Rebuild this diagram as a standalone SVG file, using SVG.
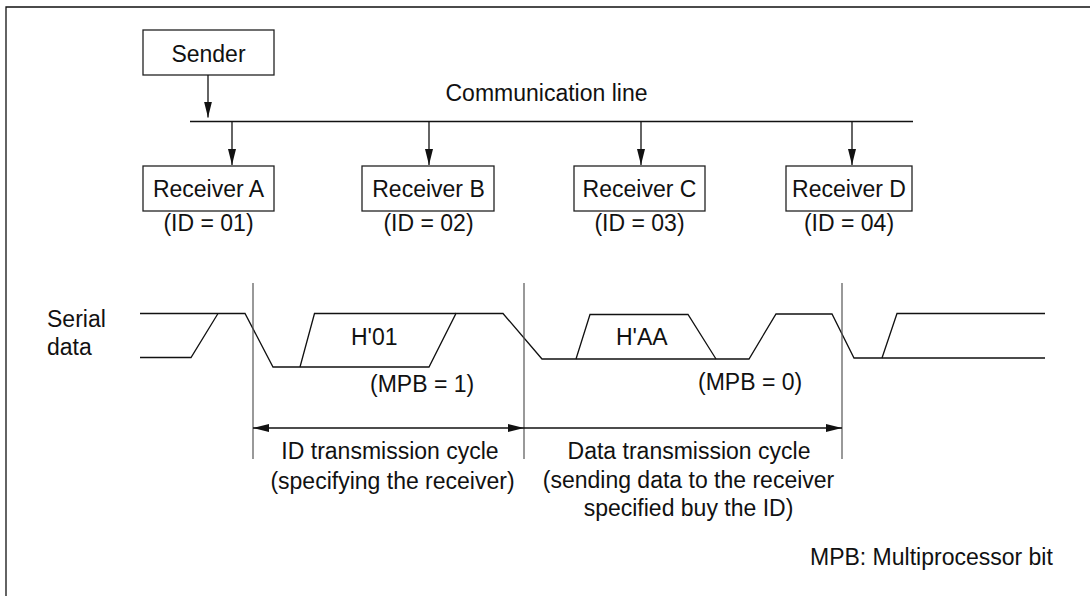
<svg xmlns="http://www.w3.org/2000/svg" width="1090" height="596" viewBox="0 0 1090 596">
<style>
text{font-family:"Liberation Sans",Arial,Helvetica,sans-serif;font-size:23px;fill:#111}
.box{fill:#fff;stroke:#222;stroke-width:1.3}
.ln{fill:none;stroke:#111;stroke-width:1.3}
.sig{fill:none;stroke:#111;stroke-width:1.3;stroke-linejoin:miter}
.vl{fill:none;stroke:#555;stroke-width:1.2}
.c{text-anchor:middle}
</style>
<defs>
<marker id="ah" markerUnits="userSpaceOnUse" markerWidth="16" markerHeight="8" refX="16" refY="4" orient="auto-start-reverse">
<path d="M0,0 L16,4 L0,8 z" fill="#111"/>
</marker>
</defs>
<rect width="1090" height="596" fill="#fff"/>
<g id="frame">
<path class="ln" d="M6,596 V7 H1090" stroke-width="1.6"/>
</g>
<g id="sender">
<rect class="box" x="143" y="30" width="131" height="45"/>
<text class="c" x="208.5" y="62">Sender</text>
</g>
<g id="commline">
<line class="ln" x1="190" y1="121.5" x2="913" y2="121.5"/>
<text class="c" x="546.5" y="100.5">Communication line</text>
</g>
<g id="receiverA">
<rect class="box" x="143" y="166" width="131" height="45"/>
<text class="c" x="208.5" y="197">Receiver A</text>
<text class="c" x="208.5" y="231">(ID = 01)</text>
</g>
<g id="receiverB">
<rect class="box" x="362" y="166" width="132" height="45"/>
<text class="c" x="428.5" y="197">Receiver B</text>
<text class="c" x="428.5" y="231">(ID = 02)</text>
</g>
<g id="receiverC">
<rect class="box" x="574" y="166" width="131" height="45"/>
<text class="c" x="639.5" y="197">Receiver C</text>
<text class="c" x="639.5" y="231">(ID = 03)</text>
</g>
<g id="receiverD">
<rect class="box" x="786" y="166" width="126" height="45"/>
<text class="c" x="849" y="197">Receiver D</text>
<text class="c" x="849" y="231">(ID = 04)</text>
</g>
<g id="connectors">
<line class="ln" x1="208" y1="75" x2="208" y2="117.5" marker-end="url(#ah)"/>
<line class="ln" x1="232" y1="121.5" x2="232" y2="165" marker-end="url(#ah)"/>
<line class="ln" x1="429" y1="121.5" x2="429" y2="165" marker-end="url(#ah)"/>
<line class="ln" x1="641" y1="121.5" x2="641" y2="165" marker-end="url(#ah)"/>
<line class="ln" x1="852" y1="121.5" x2="852" y2="165" marker-end="url(#ah)"/>
</g>
<g id="waveform">
<text x="47" y="327">Serial</text>
<text x="47" y="355">data</text>
<path class="sig" d="M140,313.5 H245 L273,367 H429 L456,313.5 H503 L542,359 H749 L776,314 H832 L854,358 H1045"/>
<path class="sig" d="M140,357.5 H191 L218,313.5"/>
<path class="sig" d="M300,367 L314.5,313.5 H456"/>
<path class="sig" d="M576,359 L590,314.5 H688 L716,359"/>
<path class="sig" d="M882,358 L897,313.5 H1045"/>
<text x="351" y="345">H'01</text>
<text x="370" y="392">(MPB = 1)</text>
<text x="616" y="345">H'AA</text>
<text x="698" y="390">(MPB = 0)</text>
</g>
<g id="timing">
<line class="vl" x1="253" y1="283" x2="253" y2="459"/>
<line class="vl" x1="524" y1="283" x2="524" y2="459"/>
<line class="vl" x1="842" y1="283" x2="842" y2="459"/>
<line class="ln" x1="253" y1="428" x2="524" y2="428" marker-start="url(#ah)" marker-end="url(#ah)"/>
<line class="ln" x1="524" y1="428" x2="842" y2="428" marker-end="url(#ah)"/>
<text class="c" x="390" y="459">ID transmission cycle</text>
<text class="c" x="392.5" y="488.5">(specifying the receiver)</text>
<text class="c" x="689" y="459">Data transmission cycle</text>
<text class="c" x="688.5" y="487.5">(sending data to the receiver</text>
<text class="c" x="688.5" y="516">specified buy the ID)</text>
</g>
<g id="legend">
<text x="810" y="565">MPB: Multiprocessor bit</text>
</g>
</svg>
